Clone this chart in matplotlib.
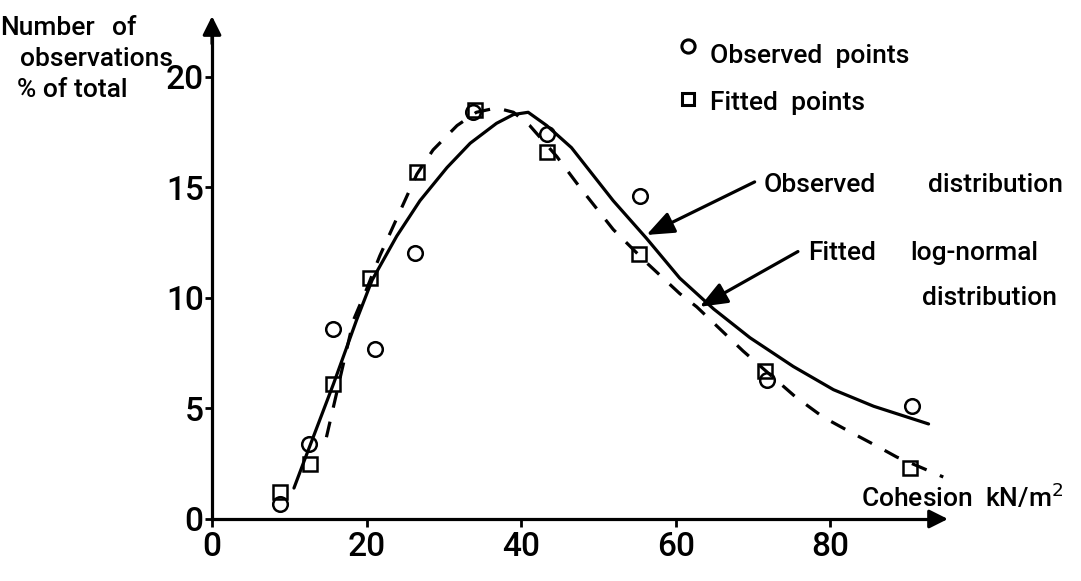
import matplotlib
matplotlib.use("Agg")
import matplotlib.pyplot as plt

plt.rcParams['font.family'] = ['Roboto', 'Liberation Sans', 'DejaVu Sans']
plt.rcParams['font.weight'] = 'medium'

# ---- data ----
obs_x = [8.8, 12.5, 15.7, 21.1, 26.3, 33.8, 43.3, 55.4, 71.8, 90.5]
obs_y = [0.7, 3.4, 8.6, 7.7, 12.05, 18.4, 17.4, 14.6, 6.3, 5.1]

fit_x = [8.8, 12.7, 15.7, 20.5, 26.5, 34.0, 43.4, 55.3, 71.5, 90.3]
fit_y = [1.2, 2.5, 6.1, 10.9, 15.7, 18.5, 16.6, 12.0, 6.7, 2.3]

obs_curve_x = [10.6, 12.0, 15.7, 18.7, 20.7, 23.9, 26.9, 30.4, 33.4, 36.8, 39.0,
               40.9, 43.3, 46.5, 51.9, 56.2, 60.5, 64.9, 69.6, 75.2, 80.4, 85.6, 92.7]
obs_curve_y = [1.4, 2.7, 6.1, 9.0, 10.8, 12.8, 14.4, 15.9, 17.0, 17.9, 18.3,
               18.4, 17.8, 16.8, 14.4, 12.7, 10.9, 9.5, 8.2, 6.9, 5.85, 5.1, 4.3]

fit_curve_x = [14.8, 18.3, 20.0, 21.7, 26.5, 28.6, 31.7, 34.2, 36.8, 39.0, 41.1,
               44.6, 47.6, 51.9, 56.2, 60.5, 62.7, 68.7, 75.4, 79.1, 82.5, 86.0, 88.6, 94.6]
fit_curve_y = [3.7, 9.0, 10.4, 11.9, 15.6, 16.7, 17.8, 18.4, 18.6, 18.4, 17.8,
               16.4, 15.0, 13.1, 11.6, 10.2, 9.6, 7.6, 5.55, 4.6, 3.95, 3.3, 2.8, 1.9]

x_ticks = [0, 20, 40, 60, 80]
y_ticks = [0, 5, 10, 15, 20]

# ---- figure ----
fig = plt.figure(figsize=(10.81, 5.81), dpi=100)
ax = fig.add_axes([0, 0, 1, 1])
ax.set_xlim(-27.43, 112.42)
ax.set_ylim(-2.805, 23.48)

for s in ('top', 'right'):
    ax.spines[s].set_visible(False)
ax.spines['left'].set_position(('data', 0))
ax.spines['bottom'].set_position(('data', 0))
ax.spines['left'].set_bounds(0, 22.0)
ax.spines['bottom'].set_bounds(0, 93.5)
for s in ('left', 'bottom'):
    ax.spines[s].set_linewidth(2.3)

ax.set_xticks(x_ticks)
ax.set_yticks(y_ticks)
ax.tick_params(axis='both', direction='out', width=2, labelsize=24)
ax.tick_params(axis='x', length=6, pad=3)
ax.tick_params(axis='y', length=5, pad=1)

# axis arrowheads
ax.annotate('', xy=(0, 22.75), xytext=(0, 21.5),
            arrowprops=dict(arrowstyle='-|>', mutation_scale=28, lw=2.3,
                            color='black', shrinkA=0, shrinkB=0))
ax.annotate('', xy=(95.2, 0), xytext=(93, 0),
            arrowprops=dict(arrowstyle='-|>', mutation_scale=28, lw=2.3,
                            color='black', shrinkA=0, shrinkB=0))

# curves
ax.plot(obs_curve_x, obs_curve_y, color='black', lw=2.3, solid_capstyle='round',
        solid_joinstyle='round')
ax.plot(fit_curve_x, fit_curve_y, color='black', lw=2.3, dashes=(5, 4.5))

# points
ax.plot(obs_x, obs_y, linestyle='none', marker='o', ms=10.5, mfc='none',
        mec='black', mew=1.8)
ax.plot(fit_x, fit_y, linestyle='none', marker='s', ms=9.5, mfc='none',
        mec='black', mew=1.8)

# legend (drawn manually like the original)
ax.plot([61.6], [21.4], linestyle='none', marker='o', ms=9.5, mfc='none',
        mec='black', mew=2.2)
ax.plot([61.6], [19.0], linestyle='none', marker='s', ms=8.5, mfc='none',
        mec='black', mew=2.2)
fs = 19
ax.text(64.4, 20.65, 'Observed  points', fontsize=fs, ha='left', va='baseline')
ax.text(64.4, 18.5, 'Fitted  points', fontsize=fs, ha='left', va='baseline')

# y axis title
ax.text(-27.4, 21.9, 'Number', fontsize=fs, ha='left', va='baseline')
ax.text(-12.9, 21.9, 'of', fontsize=fs, ha='left', va='baseline')
ax.text(-24.8, 20.5, 'observations', fontsize=fs, ha='left', va='baseline')
ax.text(-25.2, 19.1, '% of total', fontsize=fs, ha='left', va='baseline')

# x axis title
ax.text(84.0, 0.55, r'Cohesion  kN/m$^{\mathsf{2}}$', fontsize=19, ha='left',
        va='baseline')

# curve annotations
ax.text(71.3, 14.8, 'Observed', fontsize=fs, ha='left', va='baseline')
ax.text(92.6, 14.8, 'distribution', fontsize=fs, ha='left', va='baseline')
ax.text(77.1, 11.7, 'Fitted', fontsize=fs, ha='left', va='baseline')
ax.text(90.3, 11.7, 'log-normal', fontsize=fs, ha='left', va='baseline')
ax.text(91.8, 9.7, 'distribution', fontsize=fs, ha='left', va='baseline')

head = '-|>,head_length=0.7,head_width=0.28'
ax.annotate('', xy=(56.2, 12.85), xytext=(70.2, 15.25),
            arrowprops=dict(arrowstyle=head, mutation_scale=24, lw=2.3,
                            color='black', shrinkA=0, shrinkB=0))
ax.annotate('', xy=(63.1, 9.6), xytext=(75.8, 12.1),
            arrowprops=dict(arrowstyle=head, mutation_scale=24, lw=2.3,
                            color='black', shrinkA=0, shrinkB=0))

fig.savefig('out.png', dpi=100, facecolor='white')
